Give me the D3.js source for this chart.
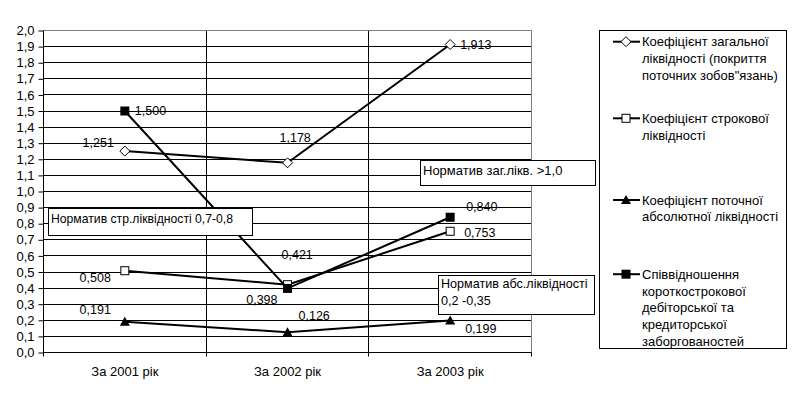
<!DOCTYPE html>
<head>
  <meta charset="utf-8">
  <script src="https://d3js.org/d3.v7.min.js"></script>
  <style>
    body { margin: 0; padding: 0; background: #fff; }
    text { font-family: "Liberation Sans", Arial, sans-serif; font-size: 12px; fill: #000; }
    .axis text, .cat { font-size: 13px; }
    .val { font-size: 12.5px; }
    .legend text { font-size: 13px; }
  </style>
</head>
<body>
  <script>
    // categories and series values
    var categories = ["За 2001 рік", "За 2002 рік", "За 2003 рік"];
    var generalLiq = [1.251, 1.178, 1.913];
    var termLiq = [0.508, 0.421, 0.753];
    var absLiq = [0.191, 0.126, 0.199];
    var debtRatio = [1.500, 0.398, 0.840];
    var yTickLabels = ["0,0", "0,1", "0,2", "0,3", "0,4", "0,5", "0,6", "0,7", "0,8", "0,9", "1,0",
      "1,1", "1,2", "1,3", "1,4", "1,5", "1,6", "1,7", "1,8", "1,9", "2,0"];
    var seriesNames = [
      ["Коефіцієнт загальної", "ліквідності (покриття", "поточних зобов\"язань)"],
      ["Коефіцієнт строкової", "ліквідності"],
      ["Коефіцієнт поточної", "абсолютної ліквідності"],
      ["Співвідношення", "короткострокової", "дебіторської та", "кредиторської", "заборгованостей"]
    ];
    var noteTexts = [
      ["Норматив стр.ліквідності 0,7-0,8"],
      ["Норматив заг.лікв. >1,0"],
      ["Норматив абс.ліквідності", "0,2 -0,35"]
    ];

    var width = 796, height = 394;
    var pLeft = 43.5, pRight = 531.5, pTop = 30.5, pBottom = 352.5;

    var svg = d3.select("body").append("svg")
      .attr("width", width)
      .attr("height", height);

    var x = d3.scaleBand().domain(categories).range([pLeft, pRight]);
    var y = d3.scaleLinear().domain([0, 2]).range([pBottom, pTop]);
    var yTicks = yTickLabels.map(function (s) { return +s.replace(",", "."); });
    var fmt = function (v) { return v.toFixed(3).replace(".", ","); };

    // horizontal gridlines
    svg.append("g").selectAll("line")
      .data(yTicks.filter(function (v) { return v > 0 && v < 2; }))
      .enter().append("line")
      .attr("x1", pLeft).attr("x2", pRight)
      .attr("y1", function (d) { return Math.round(y(d) - 0.5) + 0.5; })
      .attr("y2", function (d) { return Math.round(y(d) - 0.5) + 0.5; })
      .attr("stroke", "#000");

    // vertical gridlines between categories
    svg.append("g").selectAll("line")
      .data(categories.slice(1))
      .enter().append("line")
      .attr("x1", function (d) { return Math.round(x(d) - 0.5) + 0.5; })
      .attr("x2", function (d) { return Math.round(x(d) - 0.5) + 0.5; })
      .attr("y1", pTop).attr("y2", pBottom + 4)
      .attr("stroke", "#000");

    // plot border top / right (grey)
    svg.append("path")
      .attr("d", "M" + pLeft + "," + pTop + "H" + pRight + "V" + pBottom)
      .attr("fill", "none").attr("stroke", "#808080");

    // y axis
    var yAxis = svg.append("g")
      .attr("class", "axis")
      .attr("transform", "translate(" + pLeft + ",0)")
      .call(d3.axisLeft(y).tickValues(yTicks).tickSize(5).tickPadding(4)
        .tickFormat(function (d, i) { return yTickLabels[i]; }));
    yAxis.select(".domain").attr("d", "M0," + pTop + "V" + (pBottom + 4)).attr("stroke", "#000");
    yAxis.selectAll(".tick line").attr("stroke", "#000");
    yAxis.attr("font-size", null).attr("font-family", null);
    yAxis.selectAll("text").attr("fill", null);

    // x axis
    svg.append("line")
      .attr("x1", pLeft).attr("x2", pRight)
      .attr("y1", pBottom).attr("y2", pBottom)
      .attr("stroke", "#000");
    svg.append("line")
      .attr("x1", pRight).attr("x2", pRight)
      .attr("y1", pBottom).attr("y2", pBottom + 4)
      .attr("stroke", "#000");
    svg.append("g").selectAll("text")
      .data(categories)
      .enter().append("text")
      .attr("class", "cat")
      .attr("x", function (d) { return x(d) + x.bandwidth() / 2; })
      .attr("y", pBottom + 23.5)
      .attr("text-anchor", "middle")
      .text(function (d) { return d; });

    // series
    var series = [
      { values: generalLiq, marker: "diamond" },
      { values: termLiq, marker: "square" },
      { values: absLiq, marker: "triangle" },
      { values: debtRatio, marker: "fsquare" }
    ];

    // label placement: [dx, dy(baseline), anchor] relative to point
    var labelPlace = [
      [[-11, -4, "end"], [-8, -21, "start"], [10, 4, "start"]],
      [[-14, 11, "end"], [-6, -26, "start"], [14, 6, "start"]],
      [[-14, -8, "end"], [11, -12, "start"], [15, 13, "start"]],
      [[10, 4, "start"], [-10, 16, "end"], [16, -6, "start"]]
    ];

    function cx(i) { return x(categories[i]) + x.bandwidth() / 2; }

    function drawMarker(g, type, px, py) {
      if (type === "diamond") {
        g.append("path")
          .attr("d", "M" + px + "," + (py - 5) + "L" + (px + 5) + "," + py + "L" + px + "," + (py + 5) + "L" + (px - 5) + "," + py + "Z")
          .attr("fill", "#fff").attr("stroke", "#000");
      } else if (type === "square") {
        g.append("rect")
          .attr("x", px - 4).attr("y", py - 4).attr("width", 8).attr("height", 8)
          .attr("fill", "#fff").attr("stroke", "#000");
      } else if (type === "triangle") {
        g.append("path")
          .attr("d", "M" + px + "," + (py - 5) + "L" + (px + 5) + "," + (py + 4) + "L" + (px - 5) + "," + (py + 4) + "Z")
          .attr("fill", "#000");
      } else {
        g.append("rect")
          .attr("x", px - 4.5).attr("y", py - 4.5).attr("width", 9).attr("height", 9)
          .attr("fill", "#000");
      }
    }

    var line = d3.line()
      .x(function (d, i) { return cx(i); })
      .y(function (d) { return y(d); });

    series.forEach(function (s, si) {
      var g = svg.append("g");
      g.append("path")
        .attr("d", line(s.values))
        .attr("fill", "none")
        .attr("stroke", "#000")
        .attr("stroke-width", 2);
      s.values.forEach(function (v, i) {
        drawMarker(g, s.marker, cx(i), y(v));
        var p = labelPlace[si][i];
        svg.append("text")
          .attr("class", "val")
          .attr("x", cx(i) + p[0])
          .attr("y", y(v) + p[1])
          .attr("text-anchor", p[2])
          .text(fmt(v));
      });
    });

    // annotation boxes (base = first baseline offset, fs = font size)
    var noteBoxes = [
      { x: 48.5, y: 208.5, w: 204, h: 27, base: 14, fs: 12.2 },
      { x: 420.5, y: 160.5, w: 175, h: 25, base: 14.5, fs: 13 },
      { x: 438.5, y: 275.5, w: 156, h: 39, base: 12.5, fs: 12.6 }
    ];
    noteTexts.forEach(function (lines, i) {
      var b = noteBoxes[i];
      svg.append("rect")
        .attr("x", b.x).attr("y", b.y).attr("width", b.w).attr("height", b.h)
        .attr("fill", "#fff").attr("stroke", "#000");
      lines.forEach(function (t, j) {
        svg.append("text")
          .attr("x", b.x + 2.5)
          .attr("y", b.y + b.base + j * 17.3)
          .style("font-size", b.fs + "px")
          .text(t);
      });
    });

    // legend
    var legendBox = { x: 599.5, y: 30.5, w: 187, h: 318 };
    svg.append("rect")
      .attr("x", legendBox.x).attr("y", legendBox.y)
      .attr("width", legendBox.w).attr("height", legendBox.h)
      .attr("fill", "#fff").attr("stroke", "#000");
    var legendY = [41.7, 118.3, 200, 274.2];
    seriesNames.forEach(function (lines, i) {
      var g = svg.append("g").attr("class", "legend");
      var ly = legendY[i];
      g.append("line")
        .attr("x1", 613).attr("x2", 640)
        .attr("y1", ly).attr("y2", ly)
        .attr("stroke", "#000").attr("stroke-width", 2);
      drawMarker(g, series[i].marker, 626, ly);
      lines.forEach(function (t, j) {
        g.append("text")
          .attr("x", 642)
          .attr("y", ly + j * 16.8)
          .attr("dy", "0.35em")
          .text(t);
      });
    });
  </script>
</body>
